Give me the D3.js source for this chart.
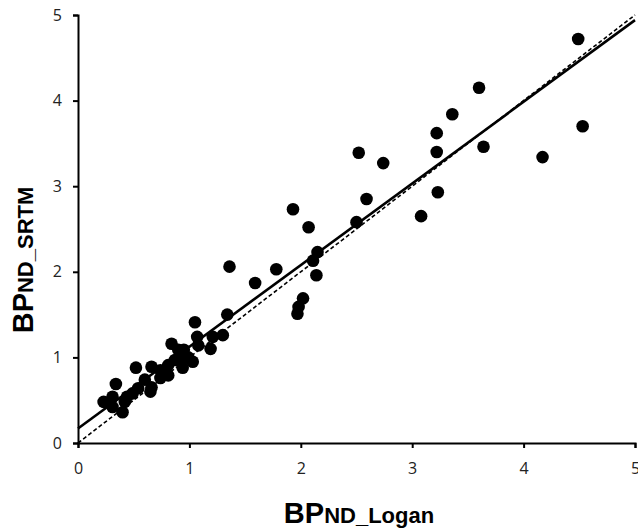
<!DOCTYPE html>
<html>
  <head>
    <style>
      body { margin: 0; background: #fff; }
    </style>
  </head>
  <body>
    <svg class="chart"></svg>
    <script src="https://d3js.org/d3.v7.min.js"></script>
    <script>
      // points: Logan (x) vs SRTM (y)
      var logan = [
        4.49, 4.53, 3.60, 3.36, 3.22, 3.22, 3.64, 4.17, 3.23, 3.08,
        2.52, 2.74, 2.59, 1.93, 2.07, 2.50, 2.15, 2.11, 2.14, 1.78,
        1.36, 1.59, 2.02, 1.98, 1.97, 1.34, 1.05, 1.07, 1.21, 1.30,
        1.19, 1.03, 1.08, 0.84, 0.90, 0.94, 0.87, 0.81, 0.74, 0.81,
        0.66, 0.52, 0.60, 0.65, 0.66, 0.54, 0.49, 0.44, 0.42, 0.40,
        0.34, 0.31, 0.23, 0.31, 0.74, 0.99, 0.95, 0.93
      ];
      var srtm = [
        4.72, 3.70, 4.15, 3.84, 3.62, 3.40, 3.46, 3.34, 2.93, 2.65,
        3.39, 3.27, 2.85, 2.73, 2.52, 2.58, 2.23, 2.13, 1.96, 2.03,
        2.06, 1.87, 1.69, 1.59, 1.51, 1.50, 1.41, 1.24, 1.24, 1.26,
        1.10, 0.95, 1.14, 1.16, 1.09, 0.88, 0.97, 0.91, 0.85, 0.79,
        0.89, 0.88, 0.74, 0.60, 0.65, 0.64, 0.58, 0.54, 0.48, 0.36,
        0.69, 0.54, 0.48, 0.42, 0.76, 1.00, 1.09, 0.99
      ];
      var ticks = [0, 1, 2, 3, 4, 5];
      // fitted line and identity line
      var fitSlope = 0.954, fitIntercept = 0.17;

      var width = 638, height = 532;
      var svg = d3.select(".chart").attr("width", width).attr("height", height);

      var x = d3.scaleLinear().domain([0, 5]).range([78, 635]);
      var y = d3.scaleLinear().domain([0, 5]).range([443, 15]);

      var xAxis = svg.append("g")
        .attr("transform", "translate(0," + y(0) + ")")
        .call(d3.axisBottom(x).tickValues(ticks).tickFormat(d3.format("d")).tickSize(5).tickPadding(15));
      var yAxis = svg.append("g")
        .attr("transform", "translate(" + x(0) + ",0)")
        .call(d3.axisLeft(y).tickValues(ticks).tickFormat(d3.format("d")).tickSize(5).tickPadding(11));

      [xAxis, yAxis].forEach(function (g) {
        g.select(".domain").attr("stroke", "#000").attr("stroke-width", 2);
        g.selectAll(".tick line").attr("stroke", "#000").attr("stroke-width", 2);
        g.selectAll(".tick text")
          .attr("fill", "#222")
          .style("font-family", "'Open Sans', sans-serif")
          .style("font-size", "16px");
      });

      var pts = logan.map(function (d, i) { return [d, srtm[i]]; });

      svg.append("g").selectAll("circle")
        .data(pts).enter().append("circle")
        .attr("cx", function (d) { return x(d[0]); })
        .attr("cy", function (d) { return y(d[1]); })
        .attr("r", 6.3)
        .attr("fill", "#000");

      svg.append("line")
        .attr("x1", x(0)).attr("y1", y(0))
        .attr("x2", x(5)).attr("y2", y(5))
        .attr("stroke", "#000").attr("stroke-width", 1.6)
        .attr("stroke-dasharray", "4,2.5");

      svg.append("line")
        .attr("x1", x(0)).attr("y1", y(fitIntercept))
        .attr("x2", x(5)).attr("y2", y(fitIntercept + fitSlope * 5))
        .attr("stroke", "#000").attr("stroke-width", 2.6);

      // axis titles
      var xt = svg.append("text")
        .attr("x", 359).attr("y", 523)
        .attr("text-anchor", "middle")
        .style("font-family", "'Liberation Sans', Arial, sans-serif")
        .style("font-weight", "bold");
      xt.append("tspan").style("font-size", "29px").text("BP");
      xt.append("tspan").style("font-size", "22px").text("ND_Logan");

      var yt = svg.append("text")
        .attr("transform", "translate(33,260) rotate(-90)")
        .attr("text-anchor", "middle")
        .style("font-family", "'Liberation Sans', Arial, sans-serif")
        .style("font-weight", "bold");
      yt.append("tspan").style("font-size", "29px").text("BP");
      yt.append("tspan").style("font-size", "22px").text("ND_SRTM");
    </script>
  </body>
</html>
